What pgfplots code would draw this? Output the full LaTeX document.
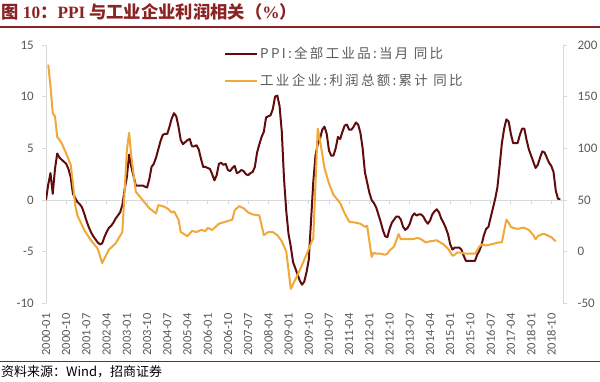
\documentclass[border=0pt]{standalone}
\usepackage{fontspec}
\usepackage{pgfplots}
\pgfplotsset{compat=1.18}
\newfontfamily\tickfont{Carlito}
\newfontfamily\cjk{Noto Sans CJK SC}
\newfontfamily\cjkleg{Noto Sans CJK SC}[LetterSpace=17]
\newfontfamily\serif{Liberation Serif}
\definecolor{ppi}{RGB}{96,12,12}
\definecolor{profit}{RGB}{240,168,56}
\definecolor{axisgray}{RGB}{217,217,217}
\definecolor{labelgray}{RGB}{89,89,89}
\definecolor{titlered}{RGB}{140,35,35}
\begin{document}
\begin{tikzpicture}[x=1bp,y=1bp]
\useasboundingbox (0,0) rectangle (600,381);
\node[anchor=west, inner sep=0pt, text=titlered] at (1.5,369) {\fontsize{17.3bp}{19bp}\selectfont\cjk\bfseries 图 {\serif\bfseries 10}：{\serif\bfseries PPI} 与工业企业利润相关（{\serif\bfseries\%}）};
\draw[titlered, line width=1.2bp] (0,354) -- (600,354);
\draw[titlered, line width=0.8bp] (0,20) -- (600,20);
\node[anchor=west, inner sep=0pt] at (1,9) {\fontsize{13bp}{15bp}\selectfont\cjk 资料来源：Wind，招商证券};
\begin{axis}[
  at={(46bp,77.7bp)}, anchor=south west, scale only axis,
  width=517.4bp, height=258.3bp,
  xmin=0, xmax=230.4, ymin=-10, ymax=15,
  axis x line*=bottom, axis y line*=left,
  x axis line style={draw=none},
  y axis line style={draw=axisgray, line width=0.8bp},
  xtick={0,9,...,225},
  xticklabels={2000-01,2000-10,2001-07,2002-04,2003-01,2003-10,2004-07,2005-04,2006-01,2006-10,2007-07,2008-04,2009-01,2009-10,2010-07,2011-04,2012-01,2012-10,2013-07,2014-04,2015-01,2015-10,2016-07,2017-04,2018-01,2018-10},
  xtick style={draw=none},
  ytick={-10,-5,0,5,10,15}, yticklabels={-10,-5,0,5,10,15},
  ytick style={draw=axisgray, line width=0.8bp},
  tick align=outside, major tick length=4bp,
  xticklabel shift=6bp,
  xticklabel style={font=\fontsize{12.5bp}{14bp}\selectfont\tickfont, text=labelgray, rotate=90, anchor=east, inner sep=0pt},
  yticklabel style={font=\fontsize{13bp}{15bp}\selectfont\tickfont, text=labelgray, anchor=east, inner sep=0pt, xshift=-8bp},
  extra y ticks={0}, extra y tick labels={},
  extra y tick style={grid=major, major grid style={draw=axisgray, line width=0.8bp}},
]
\addplot[ycomb, draw=axisgray, line width=0.8bp, forget plot, mark=none] coordinates {
(9,-0.35)(18,-0.35)(27,-0.35)(36,-0.35)(45,-0.35)(54,-0.35)(63,-0.35)(72,-0.35)(81,-0.35)(90,-0.35)(99,-0.35)(108,-0.35)(117,-0.35)(126,-0.35)(135,-0.35)(144,-0.35)(153,-0.35)(162,-0.35)(171,-0.35)(180,-0.35)(189,-0.35)(198,-0.35)(207,-0.35)(216,-0.35)(225,-0.35)};
\addplot[ppi, line width=2bp, mark=none, line join=round] coordinates {
(0,0.0)(1,1.5)(2,2.6)(3,0.6)(4,3.0)(5,4.5)(6,4.1)(7,3.9)(8,3.7)(9,3.5)(10,3.0)(11,2.2)
(12,0.6)(13,0.2)(14,-0.2)(15,-0.4)(16,-0.7)(17,-1.3)(18,-2.0)(19,-2.6)(20,-3.1)(21,-3.5)(22,-3.8)(23,-4.1)
(24,-4.3)(25,-4.2)(26,-3.6)(27,-3.1)(28,-2.7)(29,-2.5)(30,-2.2)(31,-1.8)(32,-1.5)(33,-1.2)(34,-0.5)(35,1.0)
(36,2.2)(37,4.4)(38,3.2)(39,2.3)(40,1.4)(41,1.4)(42,1.4)(43,1.4)(44,1.3)(45,1.2)(46,2.0)(47,3.2)
(48,3.5)(49,4.1)(50,4.9)(51,5.7)(52,6.3)(53,6.4)(54,6.4)(55,7.1)(56,7.9)(57,8.4)(58,8.1)(59,7.1)
(60,5.8)(61,5.4)(62,5.6)(63,5.8)(64,5.9)(65,5.2)(66,5.2)(67,5.3)(68,4.9)(69,4.0)(70,3.2)(71,3.2)
(72,3.1)(73,3.0)(74,2.5)(75,1.9)(76,2.4)(77,3.5)(78,3.6)(79,3.4)(80,3.5)(81,2.9)(82,2.8)(83,3.1)
(84,3.3)(85,2.6)(86,2.7)(87,2.9)(88,2.8)(89,2.5)(90,2.4)(91,2.6)(92,2.7)(93,3.2)(94,4.6)(95,5.4)
(96,6.1)(97,6.6)(98,8.0)(99,8.1)(100,8.2)(101,8.8)(102,10.0)(103,10.1)(104,9.1)(105,6.6)(106,2.0)(107,-1.1)
(108,-3.3)(109,-4.5)(110,-6.0)(111,-6.6)(112,-7.2)(113,-7.8)(114,-8.2)(115,-7.9)(116,-7.0)(117,-5.8)(118,-2.1)(119,1.7)
(120,4.3)(121,5.4)(122,5.9)(123,6.8)(124,7.1)(125,6.4)(126,4.8)(127,4.3)(128,4.3)(129,5.0)(130,6.1)(131,5.9)
(132,6.6)(133,7.2)(134,7.3)(135,6.8)(136,6.8)(137,7.1)(138,7.5)(139,7.3)(140,6.5)(141,5.0)(142,2.7)(143,1.7)
(144,0.7)(145,0.0)(146,-0.3)(147,-0.7)(148,-1.4)(149,-2.1)(150,-2.9)(151,-3.5)(152,-3.6)(153,-2.8)(154,-2.2)(155,-1.9)
(156,-1.6)(157,-1.6)(158,-1.9)(159,-2.6)(160,-2.9)(161,-2.7)(162,-2.3)(163,-1.6)(164,-1.3)(165,-1.5)(166,-1.4)(167,-1.4)
(168,-1.6)(169,-2.0)(170,-2.3)(171,-2.0)(172,-1.4)(173,-1.1)(174,-0.9)(175,-1.2)(176,-1.8)(177,-2.2)(178,-2.7)(179,-3.3)
(180,-4.3)(181,-4.8)(182,-4.6)(183,-4.6)(184,-4.6)(185,-4.8)(186,-5.4)(187,-5.9)(188,-5.9)(189,-5.9)(190,-5.9)(191,-5.9)
(192,-5.3)(193,-4.9)(194,-4.3)(195,-3.4)(196,-2.8)(197,-2.6)(198,-1.7)(199,-0.8)(200,0.1)(201,1.2)(202,3.3)(203,5.5)
(204,6.9)(205,7.8)(206,7.6)(207,6.4)(208,5.5)(209,5.5)(210,5.5)(211,6.3)(212,6.9)(213,6.9)(214,5.8)(215,4.9)
(216,4.3)(217,3.7)(218,3.1)(219,3.4)(220,4.1)(221,4.7)(222,4.6)(223,4.1)(224,3.6)(225,3.3)(226,2.7)(227,0.9)
(228,0.1)(229,0.1)};
\end{axis}
\begin{axis}[
  at={(46bp,77.7bp)}, anchor=south west, scale only axis,
  width=517.4bp, height=258.3bp,
  xmin=0, xmax=230.4, ymin=-50, ymax=200,
  axis x line=none, axis y line*=right,
  y axis line style={draw=axisgray, line width=0.8bp},
  ytick={-50,0,50,100,150,200}, yticklabels={-50,0,50,100,150,200},
  ytick style={draw=axisgray, line width=0.8bp},
  tick align=outside, major tick length=4bp,
  yticklabel style={font=\fontsize{13bp}{15bp}\selectfont\tickfont, text=labelgray, anchor=west, inner sep=0pt, xshift=10bp},
  legend style={at={(0.344,1.0)}, anchor=north west, draw=none, fill=none,
    font=\fontsize{13.5bp}{16bp}\selectfont\cjkleg, text=labelgray, row sep=10bp, inner sep=0pt},
  legend cell align=left,
  legend image code/.code={\draw[#1, line width=2bp] (0bp,0bp) -- (32bp,0bp);},
]
\addlegendimage{ppi, line width=2bp}
\addlegendentry{PPI:全部工业品:当月 同比}
\addplot[profit, line width=2bp, mark=none, line join=round] coordinates {
(1,181)(2,160)(3,134)(4,131)(5,111)(7,105)(9,95)(11,84)(12,66)(13,45)(14,35)(17,21)(20,11)(23,3)(25,-11)(28,2)(31,8)(34,19)(36,98)(37,115)(38,92)(40,58)(43,50)(46,42)(49,37)(50,45)(52,44)(54,42)(56,38)(57,39)(59,31)(60,19)(63,15)(65,20)(67,19)(69,21)(71,20)(72,23)(74,21)(77,27)(80,29)(83,31)(84,40)(86,44)(88,42)(90,38)(92,36)(95,35)(97,16)(99,19)(101,19)(103,16)(105,10)(107,0)(109,-36)(111,-27)(113,-18)(115,-8)(118,8)(119,13)(121,119)(122,108)(124,81)(126,66)(128,55)(131,47)(133,37)(135,29)(138,28)(140,27)(142,24)(143,25)(145,-5)(146,-1)(147,-2)(149,-2)(151,-3)(152,-2)(153,1)(154,3)(155,5)(157,17)(158,12)(161,12)(163,12)(165,13)(166,13)(167,12)(169,9)(171,10)(174,11)(177,7)(179,3)(181,-4)(182,-3)(183,-1)(185,-1)(187,-2)(189,-2)(191,-2)(193,5)(194,7)(196,6)(198,7)(200,8)(202,9)(203,9)(205,31)(206,28)(207,24)(208,23)(210,22)(212,23)(213,23)(214,22)(215,21)(217,16)(218,12)(219,15)(220,16)(221,17)(222,17)(223,16)(224,15)(225,14)(226,12)(227,10)};
\addlegendentry{工业企业:利润总额:累计 同比}
\end{axis}
\end{tikzpicture}
\end{document}
